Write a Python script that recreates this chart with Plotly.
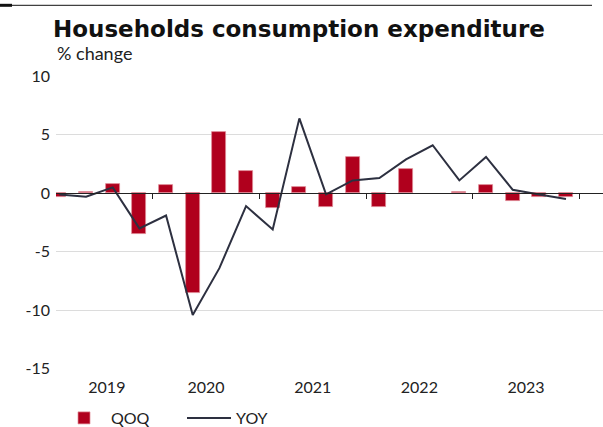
import plotly.graph_objects as go

# ---- data ----
quarters = ["2019-Q1", "2019-Q2", "2019-Q3", "2019-Q4",
            "2020-Q1", "2020-Q2", "2020-Q3", "2020-Q4",
            "2021-Q1", "2021-Q2", "2021-Q3", "2021-Q4",
            "2022-Q1", "2022-Q2", "2022-Q3", "2022-Q4",
            "2023-Q1", "2023-Q2", "2023-Q3", "2023-Q4"]
qoq = [-0.3, 0.1, 0.8, -3.5, 0.7, -8.5, 5.2, 1.9, -1.3, 0.5,
       -1.2, 3.1, -1.2, 2.1, 0.0, 0.1, 0.7, -0.7, -0.3, -0.3]
yoy = [-0.1, -0.3, 0.5, -3.0, -1.9, -10.4, -6.4, -1.1, -3.1, 6.4,
       -0.1, 1.1, 1.3, 2.9, 4.1, 1.1, 3.1, 0.3, -0.1, -0.5]
year_labels = ["2019", "2020", "2021", "2022", "2023"]
y_ticks = [10, 5, 0, -5, -10, -15]

# quarter string -> decimal year at middle of quarter
x = [int(q[:4]) + (int(q[-1]) - 0.5) / 4 for q in quarters]

W, H = 603, 427
ML, MR, MT, MB = 56, 0, 76, 58
x_range = [2019.093, 2024.222]
y_range = [-15.02, 10.02]
zero_pos = (0 - y_range[0]) / (y_range[1] - y_range[0])

label_pos = [2019.57, 2020.5, 2021.5, 2022.5, 2023.5]
year_bounds = [2020, 2021, 2022, 2023, 2024]

font_fam = "Lato, 'Source Sans Pro', 'Open Sans', sans-serif"
RED = "#b0001d"
NAVY = "#2d3040"

fig = go.Figure()
fig.add_trace(go.Bar(
    x=x, y=qoq, name="QOQ", width=0.131,
    marker=dict(color=RED,
                line=dict(color="rgba(225,140,150,0.9)",
                          width=[0.8 if v != 0 else 0 for v in qoq])),
    xaxis="x", yaxis="y",
))
fig.add_trace(go.Scatter(
    x=x, y=yoy, name="YOY", mode="lines",
    line=dict(color=NAVY, width=2),
    xaxis="x2", yaxis="y",
))

fig.update_layout(
    width=W, height=H,
    margin=dict(l=ML, r=MR, t=MT, b=MB, pad=0, autoexpand=False),
    paper_bgcolor="white", plot_bgcolor="white",
    font=dict(family=font_fam, size=16, color="#222"),
    showlegend=True,
    bargap=0,
    xaxis=dict(
        range=x_range, showgrid=False, zeroline=False, showline=False,
        tickmode="array", tickvals=label_pos, ticktext=year_labels,
        ticks="", ticklabelstandoff=7, tickfont=dict(size=16, color="#222"),
    ),
    xaxis2=dict(
        range=x_range, overlaying="x", anchor="free", position=zero_pos,
        showgrid=False, zeroline=False, showline=True, linecolor="#222", linewidth=1,
        ticks="outside", ticklen=5, tickwidth=1, tickcolor="#222",
        tickmode="array", tickvals=year_bounds, showticklabels=False,
    ),
    yaxis=dict(
        range=y_range, showgrid=True, gridcolor="#dcdcdc", gridwidth=1,
        zeroline=False, showline=False, ticks="",
        tickmode="array", tickvals=y_ticks, ticktext=[str(v) for v in y_ticks],
        ticklabelstandoff=5, tickfont=dict(size=16, color="#222"),
    ),
    legend=dict(
        orientation="h", xref="container", yref="container",
        x=57 / W, y=1 - 418 / H, xanchor="left", yanchor="middle",
        font=dict(size=16, color="#222"), itemwidth=44, entrywidth=66,
        bgcolor="rgba(0,0,0,0)",
    ),
    title=dict(
        text="<b>Households consumption expenditure</b>",
        x=53 / W, xanchor="left", xref="container",
        y=1 - 37 / H, yanchor="bottom", yref="container",
        font=dict(family="'DejaVu Sans', sans-serif", size=23, color="#111"),
    ),
)

fig.add_annotation(
    text="% change", xref="paper", yref="paper",
    x=(55 - ML) / (W - ML - MR), y=1 + (MT - 53) / (H - MT - MB),
    xanchor="left", yanchor="middle", showarrow=False,
    font=dict(family=font_fam, size=18, color="#222"),
)

# top rule
pw = W - ML - MR
ph = H - MT - MB
def px2x(p):
    return (p - ML) / pw
def py2y(p):
    return 1 + (MT - p) / ph
fig.add_shape(type="line", xref="paper", yref="paper",
              x0=px2x(0), x1=px2x(592), y0=py2y(5.3), y1=py2y(5.3),
              line=dict(color="#111", width=1))
fig.add_shape(type="line", xref="paper", yref="paper",
              x0=px2x(0), x1=px2x(12), y0=py2y(5.3), y1=py2y(5.3),
              line=dict(color="#111", width=3))

fig.write_html("out.html", config={"displayModeBar": False},
               post_script="document.body.style.margin='0px';")
